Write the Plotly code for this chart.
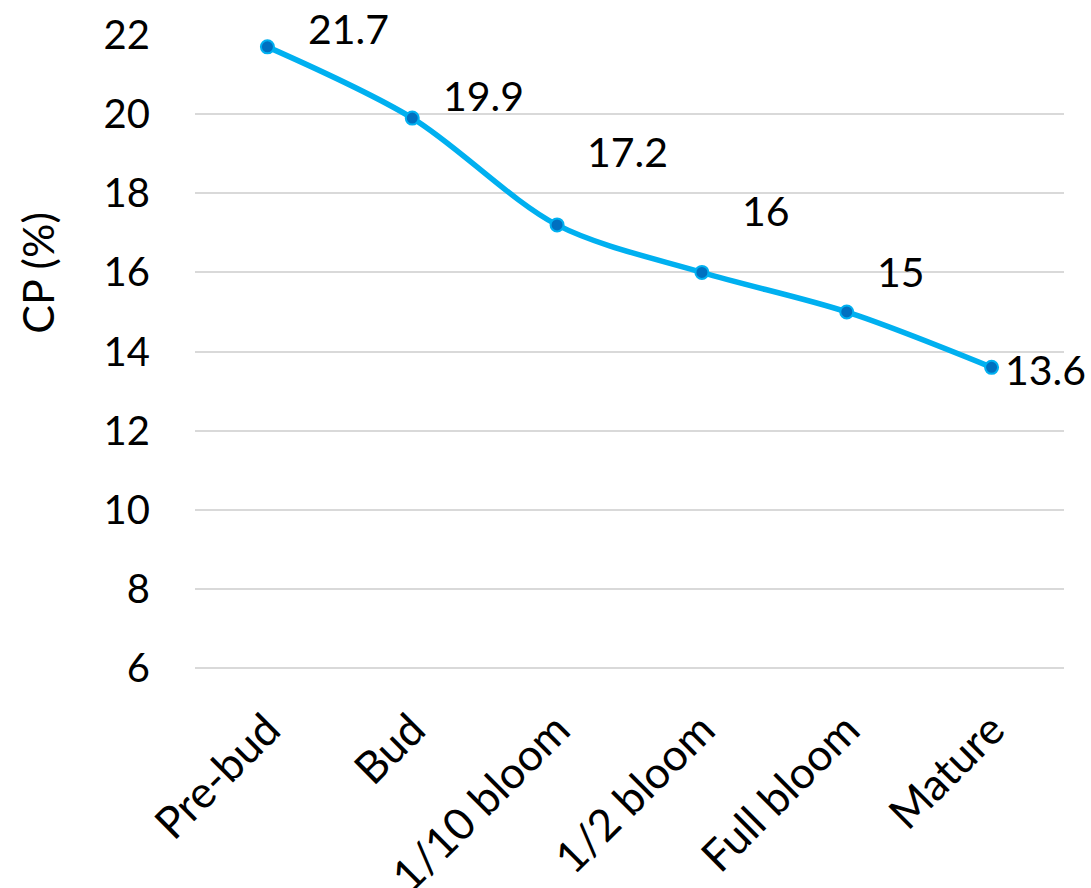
import plotly.graph_objects as go

# Crude protein content across growth stages
stages = ["Pre-bud", "Bud", "1/10 bloom", "1/2 bloom", "Full bloom", "Mature"]
cp_values = [21.7, 19.9, 17.2, 16, 15, 13.6]
y_ticks = [6, 8, 10, 12, 14, 16, 18, 20, 22]

# pixel offsets of each value label from its point (left edge x, centre y)
label_dx = [39, 29, 28, 38, 28, 11]
label_dy = [18, 23, 73, 62, 40, -2]

FONT = "Lato, Calibri, Arial, sans-serif"

fig = go.Figure()
fig.add_trace(go.Scatter(
    x=stages,
    y=cp_values,
    mode="lines+markers",
    line=dict(color="#00B0F0", width=5.5, shape="spline", smoothing=0.9),
    marker=dict(size=13, color="#0070C0", line=dict(color="#00B0F0", width=2)),
    showlegend=False,
    hoverinfo="x+y",
))

for s, v, dx, dy in zip(stages, cp_values, label_dx, label_dy):
    fig.add_annotation(
        x=s, y=v, xref="x", yref="y",
        text=str(v), showarrow=False,
        xanchor="left", yanchor="middle",
        xshift=dx, yshift=dy,
        font=dict(family=FONT, size=41, color="#000000"),
    )

# vertical axis title
fig.add_annotation(
    xref="paper", yref="paper", x=0, y=(668 - 272) / 633,
    xshift=-157, xanchor="center", yanchor="middle",
    text="CP (%)", textangle=-90, showarrow=False,
    font=dict(family=FONT, size=43, color="#000000"),
)

fig.update_layout(
    width=1091, height=888,
    margin=dict(l=195, r=27, t=35, b=218, autoexpand=False),
    paper_bgcolor="white", plot_bgcolor="white",
    font=dict(family=FONT, size=40, color="#000000"),
    xaxis=dict(
        type="category",
        range=[-0.5, len(stages) - 0.5],
        tickangle=-45,
        automargin=False,
        showgrid=False, showline=False, zeroline=False,
        ticks="", ticklabelstandoff=24,
        tickfont=dict(family=FONT, size=44, color="#000000"),
    ),
    yaxis=dict(
        range=[5.95, 22],
        tickvals=y_ticks,
        automargin=False,
        showgrid=True, gridcolor="#D9D9D9", gridwidth=2,
        showline=False, zeroline=False,
        ticks="", ticklabelstandoff=44,
        tickfont=dict(family=FONT, size=40, color="#000000"),
    ),
)

fig.write_html("out.html")
